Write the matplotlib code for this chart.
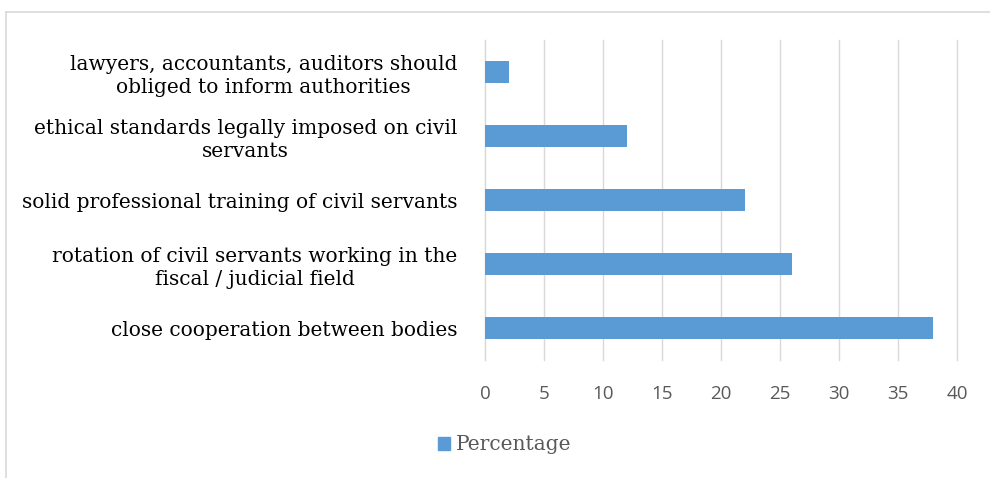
import matplotlib.pyplot as plt
from matplotlib.lines import Line2D
from matplotlib.patches import Patch

# data, bottom to top as drawn
categories = [
    'close cooperation between bodies',
    'rotation of civil servants working in the\nfiscal / judicial field',
    'solid professional training of civil servants',
    'ethical standards legally imposed on civil\nservants',
    'lawyers, accountants, auditors should\nobliged to inform authorities',
]
percentage = [38, 26, 22, 12, 2]
xticks = [0, 5, 10, 15, 20, 25, 30, 35, 40]

BAR = '#5B9BD5'
GRID = '#D9D9D9'
TXT = '#595959'
SERIF = ['DejaVu Serif']
SANS = ['Open Sans', 'DejaVu Sans']

fig = plt.figure(figsize=(9.9, 4.78), dpi=100)
ax = fig.add_axes([485 / 990, 118 / 478, 472 / 990, 320 / 478])

y = list(range(len(categories)))
ax.barh(y, percentage, height=0.34, color=BAR, zorder=3)
ax.set_ylim(-0.5, len(categories) - 0.5)
ax.set_xlim(0, 40)
ax.set_xticks(xticks)
ax.set_xticklabels([str(t) for t in xticks], family=SANS, fontsize=13.5, color=TXT)
ax.set_yticks(y)
ax.set_yticklabels(categories, family=SERIF, fontsize=14.5, color='black',
                   ha='right', multialignment='center', linespacing=1.25)

ax.grid(axis='x', color=GRID, linewidth=1, zorder=0)
for gl in ax.get_xgridlines():
    gl.set_clip_on(False)
ax.tick_params(axis='both', length=0)
ax.tick_params(axis='x', pad=18)
ax.tick_params(axis='y', pad=20)
for s in ['top', 'right', 'bottom']:
    ax.spines[s].set_visible(False)
ax.spines['left'].set_color(GRID)
ax.spines['left'].set_zorder(1)

leg = fig.legend(handles=[Patch(color=BAR, label='Percentage')],
                 loc='center left', bbox_to_anchor=(438 / 990, 1 - 445 / 478),
                 frameon=False, prop={'family': SERIF, 'size': 14.5},
                 handlelength=0.6, handleheight=0.6, handletextpad=0.3,
                 borderaxespad=0, borderpad=0)
for t in leg.get_texts():
    t.set_color(TXT)

# outer chart frame
fig.add_artist(Line2D([6 / 990, 1], [1 - 11.5 / 478, 1 - 11.5 / 478],
                      color=GRID, linewidth=1.2, transform=fig.transFigure))
fig.add_artist(Line2D([6 / 990, 6 / 990], [0, 1 - 11.5 / 478],
                      color=GRID, linewidth=1.2, transform=fig.transFigure))

fig.savefig('out.png', dpi=100)
